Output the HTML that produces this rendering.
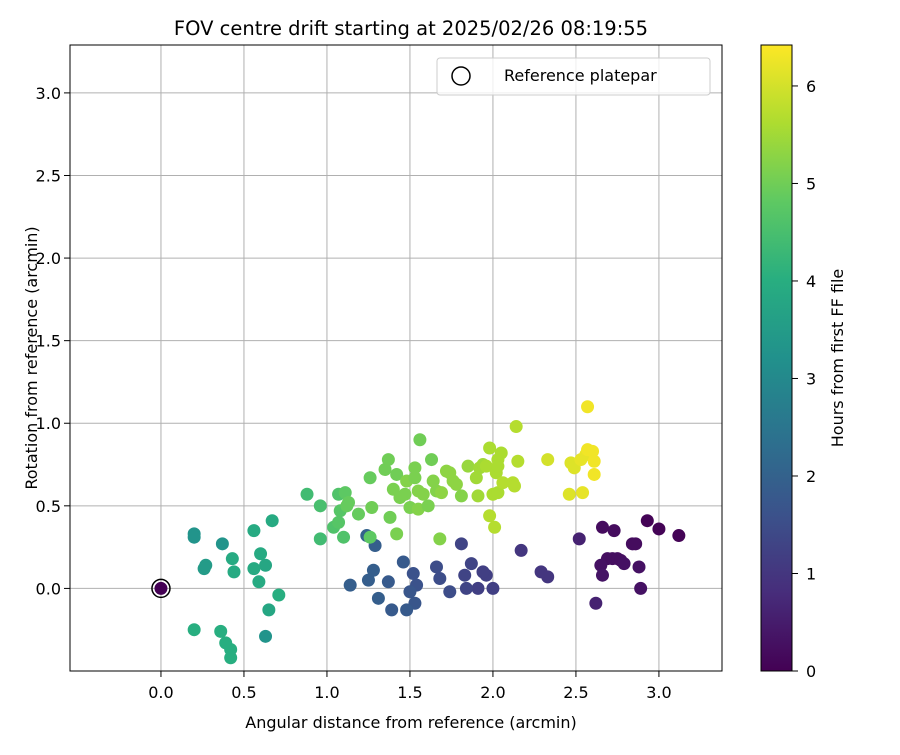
<!DOCTYPE html>
<html><head><meta charset="utf-8"><style>
body{margin:0;background:#fff;font-family:"Liberation Sans","DejaVu Sans",sans-serif}
svg text{font-family:"DejaVu Sans","Liberation Sans",sans-serif;fill:#000}
</style></head><body>
<svg id="chart" width="900" height="750" xmlns="http://www.w3.org/2000/svg">
<defs><linearGradient id="vir" x1="0" y1="1" x2="0" y2="0">
<stop offset="0" stop-color="#440154"/><stop offset="0.125" stop-color="#472d7b"/><stop offset="0.25" stop-color="#3b528b"/><stop offset="0.375" stop-color="#2c728e"/><stop offset="0.5" stop-color="#21918c"/><stop offset="0.625" stop-color="#28ae80"/><stop offset="0.75" stop-color="#5ec962"/><stop offset="0.875" stop-color="#addc30"/><stop offset="1" stop-color="#fde725"/>
</linearGradient></defs>
<text x="411" y="35" font-size="19.5" text-anchor="middle">FOV centre drift starting at 2025/02/26 08:19:55</text>
<g id="grid"></g><g id="pts"></g><g id="axes"></g>
<text x="411" y="728" font-size="16" text-anchor="middle">Angular distance from reference (arcmin)</text>
<text transform="translate(37,358) rotate(-90)" font-size="16" text-anchor="middle">Rotation from reference (arcmin)</text>
<g>
<rect x="437" y="58" width="273" height="37" rx="3" fill="#fff" fill-opacity="0.8" stroke="#ccc"/>
<circle cx="461" cy="76" r="9" fill="none" stroke="#000" stroke-width="1.5"/>
<text x="504" y="81" font-size="16">Reference platepar</text>
</g>
<g id="cbar">
<rect x="761" y="45" width="31" height="626" fill="url(#vir)" stroke="#000" stroke-width="1"/>
</g>
<text transform="translate(843,358) rotate(-90)" font-size="16" text-anchor="middle">Hours from first FF file</text>
</svg>
<script>
const xs=[3.12,2.93,3.0,2.66,2.73,2.69,2.72,2.75,2.77,2.79,2.84,2.86,2.65,2.66,2.88,2.89,2.62,2.52,
2.33,2.29,2.17,2.0,1.96,1.94,1.91,1.87,1.83,1.84,1.81,1.74,1.68,1.66,1.54,1.52,1.50,1.53,1.48,1.46,1.39,1.37,1.31,1.28,1.25,1.29,1.14,1.24,
0.20,0.20,0.26,0.27,0.37,0.63,0.65,0.63,0.60,0.59,0.56,0.56,0.67,0.71,0.43,0.44,0.20,0.36,0.39,0.42,0.42,
0.88,0.96,0.96,1.04,1.07,1.07,1.08,1.10,1.11,1.13,1.12,1.19,1.26,1.26,1.27,1.35,1.37,1.38,1.40,1.42,1.42,1.44,1.47,1.48,1.50,1.53,1.53,1.55,1.55,1.56,1.58,1.61,1.63,1.64,1.66,1.68,1.69,1.72,1.74,1.76,1.78,1.81,1.85,
1.90,1.91,1.92,1.94,1.96,1.98,2.00,1.98,2.01,2.02,2.03,2.03,2.03,2.05,2.06,2.12,2.13,2.14,2.15,2.33,2.46,2.47,2.49,2.53,2.54,2.56,2.57,2.57,2.60,2.61,2.61];
const ys=[0.32,0.41,0.36,0.37,0.35,0.18,0.18,0.18,0.17,0.15,0.27,0.27,0.14,0.08,0.13,0.0,-0.09,0.30,
0.07,0.10,0.23,0.0,0.08,0.10,0.0,0.15,0.08,0.0,0.27,-0.02,0.06,0.13,0.02,0.09,-0.02,-0.09,-0.13,0.16,-0.13,0.04,-0.06,0.11,0.05,0.26,0.02,0.32,
0.33,0.31,0.12,0.14,0.27,-0.29,-0.13,0.14,0.21,0.04,0.12,0.35,0.41,-0.04,0.18,0.10,-0.25,-0.26,-0.33,-0.37,-0.42,
0.57,0.50,0.30,0.37,0.57,0.40,0.47,0.31,0.58,0.52,0.50,0.45,0.31,0.67,0.49,0.72,0.78,0.43,0.60,0.33,0.69,0.55,0.57,0.65,0.49,0.67,0.73,0.59,0.48,0.90,0.57,0.50,0.78,0.65,0.59,0.30,0.58,0.71,0.70,0.65,0.63,0.56,0.74,
0.67,0.56,0.73,0.75,0.74,0.85,0.57,0.44,0.37,0.70,0.58,0.78,0.74,0.82,0.64,0.64,0.62,0.98,0.77,0.78,0.57,0.76,0.73,0.78,0.58,0.81,0.84,1.10,0.83,0.77,0.69];
const hours=[0.05,0.05,0.05,0.2,0.2,0.25,0.25,0.25,0.25,0.3,0.2,0.2,0.3,0.35,0.3,0.3,0.6,0.6,
1.0,1.0,1.0,1.2,1.2,1.2,1.2,1.3,1.3,1.3,1.3,1.5,1.5,1.5,1.6,1.6,1.7,1.7,1.8,1.8,1.8,1.8,1.9,1.9,1.9,1.9,1.9,2.0,
3.3,3.3,3.5,3.5,3.3,3.3,3.8,3.8,3.9,3.9,3.9,3.9,3.9,4.0,3.9,3.9,4.0,4.0,4.0,4.0,4.0,
4.4,4.5,4.4,4.6,4.6,4.7,4.7,4.6,4.8,4.9,4.9,4.9,4.8,4.9,5.0,5.0,5.0,5.0,5.1,5.1,5.0,5.1,5.1,5.2,5.1,5.1,5.1,5.2,5.2,5.0,5.2,5.1,5.0,5.2,5.2,5.2,5.3,5.3,5.3,5.3,5.3,5.2,5.4,
5.5,5.5,5.5,5.5,5.6,5.6,5.6,5.7,5.7,5.6,5.6,5.6,5.6,5.6,5.7,5.7,5.7,5.7,5.7,6.0,6.1,6.1,6.1,6.2,6.2,6.2,6.3,6.3,6.3,6.3,6.3];
const xTicks=[0.0,0.5,1.0,1.5,2.0,2.5,3.0];
const yTicks=[0.0,0.5,1.0,1.5,2.0,2.5,3.0];
const cTicks=[0,1,2,3,4,5,6];
const NS="http://www.w3.org/2000/svg";
const L=70,R=722,T=45,B=671,XMIN=-0.548,XMAX=3.38,YMIN=-0.5,YMAX=3.29,HMAX=6.42;
const sx=v=>L+(v-XMIN)/(XMAX-XMIN)*(R-L);
const sy=v=>B-(v-YMIN)/(YMAX-YMIN)*(B-T);
const sc=v=>671-v/HMAX*626;
const stops=["#440154","#472d7b","#3b528b","#2c728e","#21918c","#28ae80","#5ec962","#addc30","#fde725"].map(h=>[1,3,5].map(i=>parseInt(h.substr(i,2),16)));
function vir(h){let t=Math.max(0,Math.min(1,h/HMAX))*8;let i=Math.min(7,Math.floor(t)),f=t-i;
const c=stops[i].map((a,k)=>Math.round(a+(stops[i+1][k]-a)*f));return `rgb(${c})`;}
function mk(tag,attrs,parent){const e=document.createElementNS(NS,tag);for(const k in attrs)e.setAttribute(k,attrs[k]);parent.appendChild(e);return e;}
const grid=document.getElementById('grid'),axes=document.getElementById('axes'),pts=document.getElementById('pts'),cb=document.getElementById('cbar');
xTicks.forEach(v=>{const x=sx(v);
const g=mk('line',{x1:x,x2:x,y1:T,y2:B,stroke:'#b0b0b0','stroke-width':1},grid);


mk('line',{x1:x,x2:x,y1:B,y2:B+6,stroke:'#000'},axes);
const t=mk('text',{x:x,y:B+27,'font-size':16,'text-anchor':'middle'},axes);t.textContent=v.toFixed(1);

});
yTicks.forEach(v=>{const y=sy(v);
const g=mk('line',{x1:L,x2:R,y1:y,y2:y,stroke:'#b0b0b0','stroke-width':1},grid);


mk('line',{x1:L-6,x2:L,y1:y,y2:y,stroke:'#000'},axes);
const t=mk('text',{x:L-9,y:y+6,'font-size':16,'text-anchor':'end'},axes);t.textContent=v.toFixed(1);

});
const fr=mk('rect',{x:L,y:T,width:R-L,height:B-T,fill:'none',stroke:'#000','stroke-width':1},axes);


xs.forEach((x,i)=>{const c=mk('circle',{cx:sx(x),cy:sy(ys[i]),r:6.5,fill:vir(hours[i])},pts);

});
const ref=mk('circle',{cx:sx(0),cy:sy(0),r:6.5,fill:vir(0)},pts);


const ring=mk('circle',{cx:sx(0),cy:sy(0),r:9,fill:'none',stroke:'#000','stroke-width':1.5},pts);


cTicks.forEach(v=>{const y=sc(v);mk('line',{x1:792,x2:798,y1:y,y2:y,stroke:'#000'},cb);
const t=mk('text',{x:806,y:y+6,'font-size':16},cb);t.textContent=v;

});
</script>
</body></html>
